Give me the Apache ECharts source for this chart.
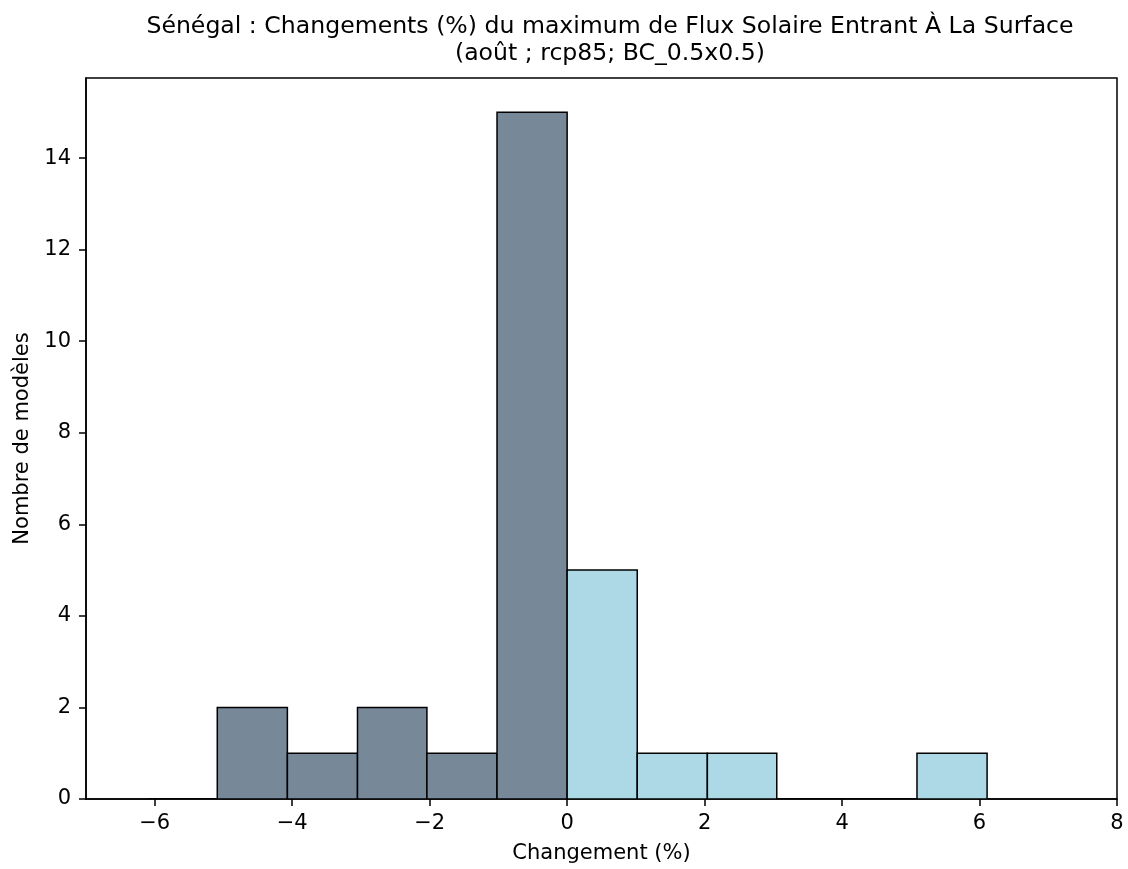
<!DOCTYPE html>
<html>
<head>
<meta charset="utf-8">
<script src="https://cdn.jsdelivr.net/npm/echarts@6/dist/echarts.min.js"></script>
<style>html,body{margin:0;padding:0;background:#fff;}#chart{width:1128px;height:869px;}</style>
</head>
<body>
<div id="chart"></div>
<script>
const titleLines = ["Sénégal : Changements (%) du maximum de Flux Solaire Entrant À La Surface", "(août ; rcp85; BC_0.5x0.5)"];
const xAxisName = "Changement (%)";
const yAxisName = "Nombre de modèles";
const binEdges = [-6.11, -5.09, -4.07, -3.05, -2.04, -1.02, 0, 1.02, 2.04, 3.05, 4.07, 5.09, 6.11];
const counts = [0, 2, 1, 2, 1, 15, 5, 1, 1, 0, 0, 1];
const xTicks = [-6, -4, -2, 0, 2, 4, 6, 8];
const yTicks = [0, 2, 4, 6, 8, 10, 12, 14];
const negColor = "#778899";
const posColor = "#ADD8E6";

const data = counts.map((c, i) => [binEdges[i], binEdges[i + 1], c]);
const fmt = v => String(v).replace('-', '\u2212');
const font = "DejaVu Sans";
const fs = 21;

const chart = echarts.init(document.getElementById('chart'), null, {renderer: 'canvas'});
chart.setOption({
  animation: false,
  backgroundColor: '#fff',
  title: {
    text: titleLines.join('\n'),
    left: 605, top: 9, textAlign: 'center',
    textStyle: {fontFamily: font, fontSize: 23.6, fontWeight: 'normal', color: '#000', lineHeight: 26.5}
  },
  grid: {left: 86, right: 11, top: 78, bottom: 68, containLabel: false, show: true, borderColor: '#000', borderWidth: 1.5, backgroundColor: 'transparent'},
  xAxis: {
    type: 'value', min: -7, max: 8,
    name: xAxisName, nameLocation: 'middle', nameGap: 44,
    nameTextStyle: {fontFamily: font, fontSize: fs, color: '#000'},
    axisLine: {show: true, onZero: false, lineStyle: {color: '#000', width: 1.5}},
    axisTick: {show: true, length: 7, lineStyle: {color: '#000', width: 1.5}, customValues: xTicks},
    axisLabel: {fontFamily: font, fontSize: fs, color: '#000', margin: 14, customValues: xTicks, formatter: fmt},
    splitLine: {show: false}
  },
  yAxis: {
    type: 'value', min: 0, max: 15.75,
    name: yAxisName, nameLocation: 'middle', nameGap: 53, nameRotate: 90,
    nameTextStyle: {fontFamily: font, fontSize: fs, color: '#000'},
    axisLine: {show: true, onZero: false, lineStyle: {color: '#000', width: 1.5}},
    axisTick: {show: true, length: 7, lineStyle: {color: '#000', width: 1.5}, customValues: yTicks},
    axisLabel: {fontFamily: font, fontSize: fs, color: '#000', margin: 15, customValues: yTicks, formatter: fmt},
    splitLine: {show: false}
  },
  series: [{
    type: 'custom',
    data: data,
    clip: true,
    renderItem: function (params, api) {
      const x0 = api.value(0), x1 = api.value(1), c = api.value(2);
      const p0 = api.coord([x0, 0]);
      const p1 = api.coord([x1, c]);
      return {
        type: 'rect',
        shape: {x: p0[0], y: p1[1], width: p1[0] - p0[0], height: p0[1] - p1[1]},
        style: {fill: x0 < 0 ? negColor : posColor, stroke: '#000', lineWidth: 1.5}
      };
    },
    encode: {x: [0, 1], y: 2}
  }]
});
</script>
</body>
</html>
